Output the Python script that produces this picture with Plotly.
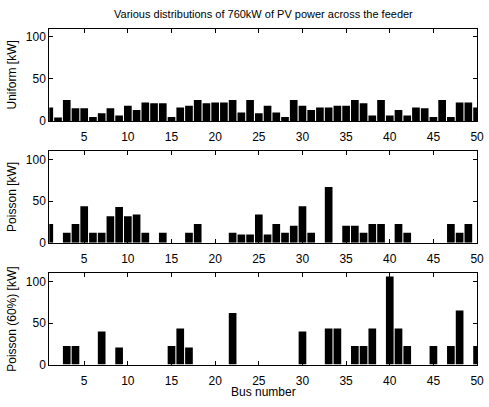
import plotly.graph_objects as go

buses = list(range(1, 51))
uniform_kw = [16, 4, 25, 15, 15, 4.5, 9, 15, 6.5, 18, 13, 22, 21, 21, 4.5, 16, 18, 25, 21, 22,
              22, 25, 10, 25, 9, 18, 10, 4.5, 25, 18, 13, 16, 16, 18, 18, 25, 21, 6.5, 25, 6.5,
              13, 6.5, 16, 15, 4.5, 25, 4.5, 22, 22, 16]
poisson_kw = [22.5, 0, 12, 22.5, 44, 12, 12, 32, 43, 32, 34, 12, 0, 12, 0, 0, 12, 22.5, 0, 0,
              0, 12, 10, 10, 34, 10, 22.5, 12, 20.5, 44, 12, 0, 67, 0, 20.5, 20.5, 12, 22.5, 22.5, 0,
              22.5, 12, 0, 0, 0, 0, 22.5, 12, 22.5, 0]
poisson60_kw = [0, 0, 22.5, 22.5, 0, 0, 40, 0, 20.5, 0, 0, 0, 0, 0, 22.5, 43.5, 20.5, 0, 0, 0,
                0, 62, 0, 0, 0, 0, 0, 0, 0, 40, 0, 0, 43.5, 43.5, 0, 22.5, 22.5, 43.5, 0, 106,
                43.5, 22.5, 0, 0, 22.5, 0, 22.5, 65, 0, 22.5]

y_titles = ["Uniform [kW]", "Poisson [kW]", "Poisson (60%) [kW]"]
series = [uniform_kw, poisson_kw, poisson60_kw]
x_ticks = [5, 10, 15, 20, 25, 30, 35, 40, 45, 50]
y_ticks = [0, 50, 100]

W, H = 489, 407
x0, x1 = 50 / W, 484 / W
panels_px = [(29, 123), (154, 247), (278, 371)]

font = "Liberation Sans, Arial, sans-serif"
fig = go.Figure()
layout = dict(
    width=W, height=H, margin=dict(l=0, r=0, t=0, b=0),
    paper_bgcolor="white", plot_bgcolor="white", showlegend=False,
    font=dict(family=font, size=12, color="black"),
    bargap=0.12,
)
annotations = []
for i, (vals, (top, bot)) in enumerate(zip(series, panels_px)):
    n = "" if i == 0 else str(i + 1)
    fig.add_trace(go.Bar(x=buses, y=vals, marker=dict(color="black", line=dict(width=0)),
                         xaxis="x" + n, yaxis="y" + n, width=0.88))
    layout["xaxis" + n] = dict(
        domain=[x0, x1], range=[1, 50], anchor="y" + n,
        tickvals=x_ticks, ticks="inside", ticklen=4, tickcolor="black",
        showline=True, linecolor="black", linewidth=1, mirror="ticks",
        showgrid=False, zeroline=False, tickfont=dict(size=12),
        ticklabeloverflow="allow", ticklabelstandoff=5,
    )
    layout["yaxis" + n] = dict(
        domain=[1 - bot / H, 1 - top / H], range=[0, 110], anchor="x" + n,
        tickvals=y_ticks, ticks="inside", ticklen=4, tickcolor="black",
        showline=True, linecolor="black", linewidth=1, mirror="ticks",
        showgrid=False, zeroline=False, tickfont=dict(size=12),
        ticklabeloverflow="allow",
    )
    annotations.append(dict(
        text=y_titles[i], textangle=-90, xref="paper", yref="paper",
        x=12 / W, y=1 - (top + bot) / 2 / H, showarrow=False,
        font=dict(size=12), xanchor="center", yanchor="middle",
    ))

annotations.append(dict(text="Bus number", xref="paper", yref="paper",
                        x=(50 + 484) / 2 / W, y=0, showarrow=False,
                        font=dict(size=12), xanchor="center", yanchor="bottom",
                        borderpad=0, yshift=0))
annotations.append(dict(text="Various distributions of 760kW of PV power across the feeder",
                        xref="paper", yref="paper",
                        x=(50 + 484) / 2 / W, y=1 - 14 / H, showarrow=False,
                        font=dict(size=11), xanchor="center", yanchor="middle"))
layout["annotations"] = annotations
fig.update_layout(**layout)
fig.write_html("out.html")
